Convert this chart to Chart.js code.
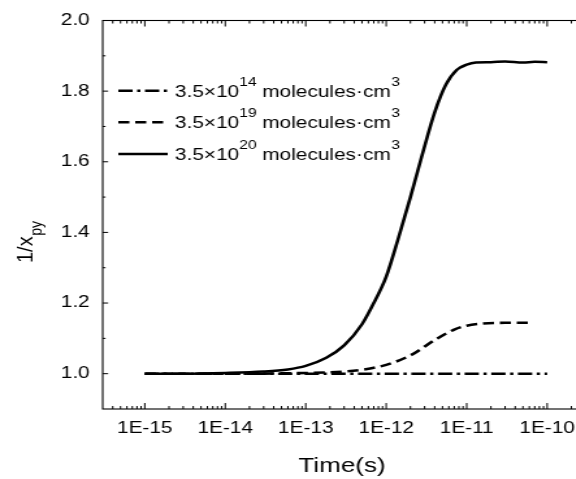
<!DOCTYPE html>
<html>
<head>
<meta charset="utf-8">
<script src="https://cdn.jsdelivr.net/npm/chart.js@4"></script>
<style>
  html, body { margin: 0; padding: 0; background: #fff; overflow: hidden; width: 576px; height: 479px; }
  /* the reference text is wide, so the whole canvas is stretched sideways */
  #wrap { position: absolute; left: 0; top: 0; width: 460px; height: 479px; transform: scaleX(1.3); transform-origin: 0 0; }
</style>
</head>
<body>
<div id="wrap"><canvas id="timeChart"></canvas></div>
<script>
const FONT = "Arial, 'Liberation Sans', sans-serif";
const STRETCH = 1.3;

// 3.5x10^20 molecules (solid)
const timeHigh = [1e-15, 3e-15, 1e-14, 3e-14, 6e-14, 1e-13, 1.8e-13, 3e-13, 5e-13, 7e-13, 1e-12, 1.4e-12, 2e-12, 2.8e-12, 4e-12, 5.5e-12, 7.5e-12, 1e-11, 1.3e-11, 2e-11, 3e-11, 5e-11, 7e-11, 1e-10];
const valueHigh = [1.000, 1.000, 1.002, 1.006, 1.012, 1.022, 1.045, 1.080, 1.140, 1.200, 1.275, 1.380, 1.500, 1.620, 1.740, 1.818, 1.860, 1.875, 1.881, 1.882, 1.884, 1.881, 1.883, 1.882];

// 3.5x10^19 molecules (dashed)
const timeMid = [1e-15, 1e-14, 1e-13, 3e-13, 5e-13, 1e-12, 2e-12, 4e-12, 7e-12, 1e-11, 1.6e-11, 3e-11, 6e-11];
const valueMid = [1.000, 1.000, 1.002, 1.006, 1.011, 1.025, 1.052, 1.095, 1.125, 1.136, 1.142, 1.144, 1.144];

// 3.5x10^14 molecules (dash-dot)
const timeLow = [1e-15, 1e-14, 1e-13, 1e-12, 1e-11, 1e-10];
const valueLow = [1.0, 1.0, 1.0, 1.0, 1.0, 1.0];

const seriesExp = ["14", "19", "20"];
const xTicks = [1e-15, 1e-14, 1e-13, 1e-12, 1e-11, 1e-10];
const yTicks = [1.0, 1.2, 1.4, 1.6, 1.8, 2.0];
const yMinorTicks = [1.1, 1.3, 1.5, 1.7, 1.9];

const toPoints = (xs, ys) => xs.map((t, i) => ({ x: t, y: ys[i] }));

// frame, inward ticks, legend and axis titles
const decorations = {
  id: "decorations",
  afterDraw(chart) {
    const { ctx, chartArea: a, scales } = chart;
    const x = scales.x, y = scales.y;
    ctx.save();
    ctx.strokeStyle = "#000";
    ctx.fillStyle = "#000";

    ctx.lineWidth = 1.1;
    ctx.strokeRect(a.left, a.top, a.right - a.left, a.bottom - a.top);

    ctx.lineWidth = 1;
    ctx.beginPath();
    const xTick = (v, len) => {
      const px = x.getPixelForValue(v);
      if (px <= a.left || px >= a.right) return;
      ctx.moveTo(px, a.bottom); ctx.lineTo(px, a.bottom - len);
      ctx.moveTo(px, a.top); ctx.lineTo(px, a.top + len);
    };
    xTicks.forEach(v => xTick(v, 6));
    for (let d = -16; d <= -10; d++) {
      for (let m = 2; m <= 9; m++) xTick(m * Math.pow(10, d), 3);
    }
    const yTick = (v, len) => {
      const py = y.getPixelForValue(v);
      ctx.moveTo(a.left, py); ctx.lineTo(a.left + len, py);
    };
    yTicks.forEach(v => yTick(v, 4.2));
    yMinorTicks.forEach(v => yTick(v, 2.2));
    ctx.stroke();

    // legend, same order as the series
    const rows = [90.7, 122.3, 154];
    chart.data.datasets.forEach((ds, r) => {
      const ly = rows[r];
      ctx.save();
      ctx.lineWidth = ds.borderWidth;
      ctx.setLineDash(ds.borderDash || []);
      ctx.beginPath();
      ctx.moveTo(91, ly); ctx.lineTo(129, ly);
      ctx.stroke();
      ctx.restore();
      let tx = 134.6;
      const base = ly + 6;
      ctx.textBaseline = "alphabetic";
      ctx.textAlign = "left";
      ctx.font = "16px " + FONT;
      ctx.fillText("3.5\u00d710", tx, base);
      tx += ctx.measureText("3.5\u00d710").width;
      ctx.font = "12px " + FONT;
      ctx.fillText(seriesExp[r], tx, base - 11);
      tx += ctx.measureText(seriesExp[r]).width;
      ctx.font = "16px " + FONT;
      ctx.fillText(" molecules\u00b7cm", tx, base);
      tx += ctx.measureText(" molecules\u00b7cm").width;
      ctx.font = "12px " + FONT;
      ctx.fillText("3", tx + 0.5, base - 11);
    });

    // x title
    ctx.font = "20px " + FONT;
    ctx.textAlign = "center";
    ctx.fillText("Time(s)", 342 / STRETCH, 471.5);

    // y title, drawn with less of the sideways stretch
    ctx.save();
    ctx.scale(1.12 / STRETCH, 1);
    ctx.translate(33 / 1.12, 263);
    ctx.rotate(-Math.PI / 2);
    ctx.textAlign = "left";
    ctx.font = "20px " + FONT;
    ctx.fillText("1/x", 0, 0);
    const w = ctx.measureText("1/x").width;
    ctx.font = "14px " + FONT;
    ctx.fillText("py", w + 0.5, 7.5);
    ctx.restore();

    ctx.restore();
  }
};

const ctx = document.getElementById("timeChart").getContext("2d");
const chart = new Chart(ctx, {
  type: "line",
  data: {
    datasets: [
      {
        label: "3.5x10^14",
        data: toPoints(timeLow, valueLow),
        borderColor: "#000",
        borderWidth: 2.6,
        borderDash: [11, 3.5, 2.5, 3.5],
        pointRadius: 0,
      },
      {
        label: "3.5x10^19",
        data: toPoints(timeMid, valueMid),
        borderColor: "#000",
        borderWidth: 2.6,
        borderDash: [8.5, 4.5],
        pointRadius: 0,
        cubicInterpolationMode: "monotone",
      },
      {
        label: "3.5x10^20",
        data: toPoints(timeHigh, valueHigh),
        borderColor: "#000",
        borderWidth: 2.6,
        pointRadius: 0,
        cubicInterpolationMode: "monotone",
      },
    ],
  },
  options: {
    responsive: true,
    maintainAspectRatio: false,
    animation: false,
    events: [],
    layout: { padding: { top: 20.5, right: 7, left: 0, bottom: 0 } },
    plugins: { legend: { display: false }, tooltip: { enabled: false } },
    scales: {
      x: {
        type: "logarithmic",
        min: 3e-16,
        max: 3.3e-10,
        grid: { display: false, drawTicks: false },
        border: { display: false },
        afterBuildTicks: (scale) => { scale.ticks = xTicks.map(v => ({ value: v })); },
        afterFit: (scale) => { scale.height = 70; },
        ticks: {
          autoSkip: false,
          maxRotation: 0,
          padding: 10,
          color: "#000",
          font: { family: FONT, size: 16 },
          callback: (v) => "1E" + Math.round(Math.log10(v)),
        },
      },
      y: {
        min: 0.9,
        max: 2.0,
        grid: { display: false, drawTicks: false },
        border: { display: false },
        afterBuildTicks: (scale) => { scale.ticks = yTicks.map(v => ({ value: v })); },
        afterFit: (scale) => { scale.width = 79; },
        ticks: {
          padding: 10,
          color: "#000",
          font: { family: FONT, size: 16 },
          callback: (v) => Number(v).toFixed(1),
        },
      },
    },
  },
  plugins: [decorations],
});
</script>
</body>
</html>
